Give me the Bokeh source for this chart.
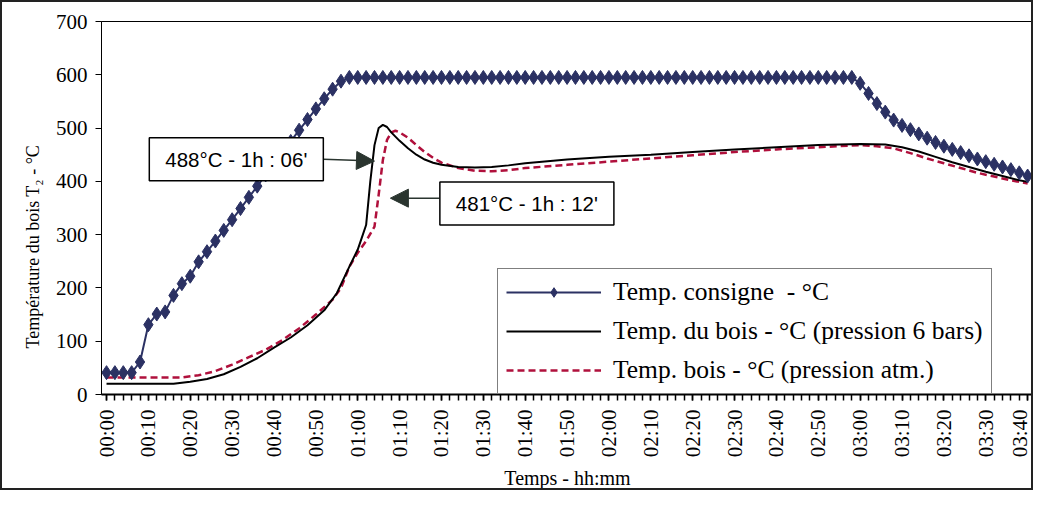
import math
from bokeh.plotting import figure
from bokeh.models import (Range1d, FixedTicker, Legend, LegendItem, Label,
                          Arrow, NormalHead, ColumnDataSource, Title)
from bokeh.embed import file_html
from bokeh.resources import INLINE

# ---------------- data ----------------
x_tick_minutes = [0, 10, 20, 30, 40, 50, 60, 70, 80, 90, 100, 110, 120, 130,
                  140, 150, 160, 170, 180, 190, 200, 210, 220]
x_tick_labels = ["00:00", "00:10", "00:20", "00:30", "00:40", "00:50", "01:00",
                 "01:10", "01:20", "01:30", "01:40", "01:50", "02:00", "02:10",
                 "02:20", "02:30", "02:40", "02:50", "03:00", "03:10", "03:20",
                 "03:30", "03:40"]
y_ticks = [0, 100, 200, 300, 400, 500, 600, 700]

# Setpoint (every 2 minutes, 00:00 .. 03:40)
consigne_minutes = list(range(0, 221, 2))
consigne_values = [
    41, 41, 41, 41, 61, 131, 151, 155, 186, 208,
    222, 249, 268, 288, 308, 328, 349, 370, 391, 412,
    433, 454, 475, 496, 516, 536, 555, 573, 588, 595,
    595, 595, 595, 595, 595, 595, 595, 595, 595, 595,
    595, 595, 595, 595, 595, 595, 595, 595, 595, 595,
    595, 595, 595, 595, 595, 595, 595, 595, 595, 595,
    595, 595, 595, 595, 595, 595, 595, 595, 595, 595,
    595, 595, 595, 595, 595, 595, 595, 595, 595, 595,
    595, 595, 595, 595, 595, 595, 595, 595, 595, 595,
    584, 565, 546, 530, 515, 505, 497, 489, 481, 473,
    466, 460, 454, 448, 442, 437, 432, 427, 422, 416,
    410]

# Wood temperature, 6 bar pressure
bois6_minutes = [0, 10, 16, 20, 24, 28, 32, 36, 40, 44, 48, 52, 55, 58, 60, 61,
                 62, 63, 64, 65, 66, 67, 68, 70, 72, 74, 76, 78, 80, 84, 88,
                 92, 96, 100, 110, 120, 130, 140, 150, 160, 170, 180, 186, 190,
                 194, 198, 202, 206, 210, 214, 218, 220]
bois6_values = [20, 20, 20, 24, 29, 38, 52, 68, 88, 107, 130, 158, 190, 240,
                272, 295, 318, 400, 468, 500, 506, 502, 492, 476, 462, 450, 441,
                435, 431, 427, 426, 427, 430, 434, 441, 446, 450, 455, 460, 464,
                468, 470, 469, 464, 456, 446, 436, 427, 418, 410, 402, 399]

# Wood temperature, atmospheric pressure
boisatm_minutes = [0, 18, 22, 26, 30, 34, 38, 42, 46, 50, 54, 56, 58, 60, 62,
                   64, 65, 66, 67, 68, 69, 70, 72, 74, 76, 78, 80, 84, 88, 92,
                   96, 100, 110, 120, 130, 140, 150, 160, 170, 180, 184, 188,
                   192, 196, 200, 204, 208, 212, 216, 220]
boisatm_values = [32, 32, 36, 44, 56, 70, 84, 102, 124, 150, 178, 200, 240,
                  266, 288, 315, 375, 440, 478, 492, 495, 492, 482, 468, 455,
                  444, 435, 425, 420, 419, 421, 425, 431, 437, 443, 449, 455,
                  460, 464, 468, 466, 462, 453, 443, 434, 425, 416, 409, 402,
                  396]

legend_labels = ["Temp. consigne  - °C",
                 "Temp. du bois - °C (pression 6 bars)",
                 "Temp. bois - °C (pression atm.)"]
y_axis_title = "Température du bois T₂ - °C"
x_axis_title = "Temps - hh:mm"
annot_1 = "488°C - 1h : 06'"
annot_2 = "481°C - 1h : 12'"

# ---------------- figure ----------------
SERIF = "Liberation Serif"
SANS = "Liberation Sans"
NAVY = "#2b3163"
RED = "#b0103c"
DARK = "#2a352f"

p = figure(width=1033, height=490, output_backend="svg", toolbar_location=None,
           x_range=Range1d(-1.2, 221.4), y_range=Range1d(0, 700),
           min_border_left=99, min_border_right=2, min_border_top=19,
           min_border_bottom=93)
p.styles = {"border": "2px solid #222"}
p.background_fill_color = "white"
p.border_fill_color = "white"
p.outline_line_color = "black"
p.outline_line_width = 1
p.xgrid.visible = False
p.ygrid.visible = False

src_c = ColumnDataSource(dict(x=consigne_minutes, y=consigne_values))
src_6 = ColumnDataSource(dict(x=bois6_minutes, y=bois6_values))
src_a = ColumnDataSource(dict(x=boisatm_minutes, y=boisatm_values))

r_atm = p.line("x", "y", source=src_a, line_color=RED, line_width=2.5,
               line_dash="7 4")
r_6 = p.line("x", "y", source=src_6, line_color="black", line_width=2)
r_cl = p.line("x", "y", source=src_c, line_color=NAVY, line_width=2)
r_cm = p.scatter("x", "y", source=src_c, marker="diamond", size=14,
                 fill_color=NAVY, line_color=NAVY, line_width=1)

# axes
p.xaxis.ticker = FixedTicker(ticks=x_tick_minutes,
                             minor_ticks=list(range(0, 221, 2)))
p.xaxis.major_label_overrides = {m: l for m, l in zip(x_tick_minutes, x_tick_labels)}
p.xaxis.major_label_orientation = math.pi / 2
p.xaxis.axis_label = x_axis_title
p.yaxis.ticker = FixedTicker(ticks=y_ticks, minor_ticks=[])

for ax in (p.xaxis[0], p.yaxis[0]):
    ax.axis_line_color = "black"
    ax.major_tick_line_color = "black"
    ax.minor_tick_line_color = "black"
    ax.major_tick_in = 0
    ax.major_tick_out = 6
    ax.minor_tick_in = 0
    ax.minor_tick_out = 6
    ax.major_label_text_font = SERIF
    ax.major_label_text_font_size = "21px"
    ax.major_label_text_color = "black"
    ax.axis_label_text_font = SERIF
    ax.axis_label_text_font_style = "normal"
    ax.axis_label_text_color = "black"

p.xaxis.major_label_standoff = 9
p.yaxis.major_label_standoff = 8
p.xaxis.axis_label_text_font_size = "20px"
p.xaxis.axis_line_width = 2
p.xaxis.major_tick_line_width = 1.5
p.xaxis.minor_tick_line_width = 1.5
p.xaxis.axis_label_standoff = 7

# y axis title, placed lower than centre as in the original
ytitle = Title(text=y_axis_title, align="left", offset=46,
               text_font=SERIF, text_font_size="18px",
               text_font_style="normal", text_color="black", standoff=20)
p.add_layout(ytitle, "left")

# legend
legend = Legend(items=[
    LegendItem(label=legend_labels[0], renderers=[r_cl, r_cm]),
    LegendItem(label=legend_labels[1], renderers=[r_6]),
    LegendItem(label=legend_labels[2], renderers=[r_atm]),
], location=(396, 0))
legend.label_text_font = SERIF
legend.label_text_font_size = "25.5px"
legend.label_text_color = "black"
legend.glyph_width = 95
legend.glyph_height = 24
legend.label_height = 24
legend.spacing = 9
legend.padding = 8
legend.margin = 0
legend.label_standoff = 12
legend.border_line_color = "black"
legend.border_line_width = 1.5
legend.background_fill_color = "white"
legend.background_fill_alpha = 1
p.add_layout(legend)

# annotations
head1 = NormalHead(size=18, fill_color=DARK, line_color=DARK)
p.add_layout(Arrow(end=head1, x_start=51.8, y_start=441.5, x_end=64.0, y_end=438,
                   line_color=DARK, line_width=1.5))
head2 = NormalHead(size=18, fill_color=DARK, line_color=DARK)
p.add_layout(Arrow(end=head2, x_start=79.5, y_start=368.5, x_end=67.8, y_end=368.5,
                   line_color=DARK, line_width=1.5))

for txt, xx, yy in ((annot_1, 31.0, 441.5), (annot_2, 100.4, 358.3)):
    p.add_layout(Label(x=xx, y=yy, text=txt, text_font=SANS,
                       text_font_size="20.5px", text_color="black",
                       text_align="center", text_baseline="middle",
                       background_fill_color="white", background_fill_alpha=1,
                       border_line_color="black", border_line_width=1.5,
                       padding=(16, 10)))

open("out.html", "w").write(file_html(p, INLINE))
